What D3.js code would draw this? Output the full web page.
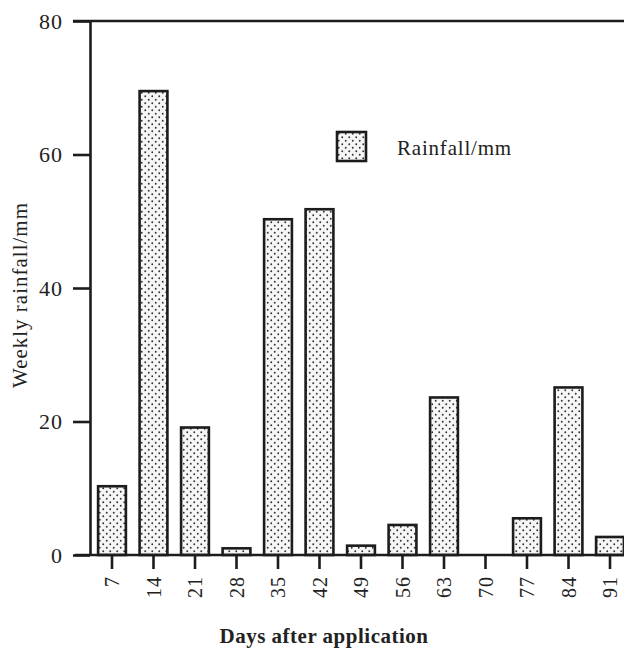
<!DOCTYPE html>
<html>
<head>
<meta charset="utf-8">
<script src="https://cdn.jsdelivr.net/npm/d3@7"></script>
<style>
  body { margin: 0; background: #fff; }
  svg text { font-family: "Liberation Serif", "Times New Roman", serif; fill: #222; }
</style>
</head>
<body>
<svg id="chart"></svg>
<script>
const days = [7, 14, 21, 28, 35, 42, 49, 56, 63, 70, 77, 84, 91];
const rainfall = [10.3, 69.5, 19.1, 1.0, 50.3, 51.8, 1.4, 4.5, 23.6, 0, 5.5, 25.1, 2.7];
const yTicks = [0, 20, 40, 60, 80];

const width = 624;
const height = 650;
const ink = '#1c1c1c';

const svg = d3.select('#chart').attr('width', width).attr('height', height);

// stipple pattern for bars
const defs = svg.append('defs');
const pat = defs.append('pattern')
    .attr('id', 'dots')
    .attr('patternUnits', 'userSpaceOnUse')
    .attr('width', 7)
    .attr('height', 7);
pat.append('rect').attr('width', 7).attr('height', 7).attr('fill', '#f6f6f6');
pat.append('circle').attr('cx', 1.75).attr('cy', 1.75).attr('r', 0.95).attr('fill', '#333');
pat.append('circle').attr('cx', 5.25).attr('cy', 5.25).attr('r', 0.95).attr('fill', '#333');

const step = 41.5;
const x0 = 112 - step / 2;
const xScale = d3.scaleBand()
    .domain(days)
    .range([x0, x0 + step * days.length])
    .paddingInner(0.33)
    .paddingOuter(0.165);

const yScale = d3.scaleLinear().domain([0, 80]).range([555, 21]);
const axisX = 90;

// bars
svg.selectAll('.bar')
    .data(days.map((d, i) => ({ day: d, value: rainfall[i] })).filter(d => d.value > 0))
    .enter()
    .append('rect')
    .attr('class', 'bar')
    .attr('x', d => xScale(d.day))
    .attr('y', d => yScale(d.value))
    .attr('width', xScale.bandwidth())
    .attr('height', d => yScale(0) - yScale(d.value))
    .attr('fill', 'url(#dots)')
    .attr('stroke', ink)
    .attr('stroke-width', 2.6);

// left axis
const yAxis = svg.append('g')
    .attr('transform', `translate(${axisX}, 0)`)
    .call(d3.axisLeft(yScale).tickValues(yTicks).tickSize(17).tickPadding(10).tickSizeOuter(0));
yAxis.select('.domain').attr('stroke', ink).attr('stroke-width', 2.6);
yAxis.selectAll('.tick line').attr('stroke', ink).attr('stroke-width', 2.6);
yAxis.selectAll('text')
    .style('font-size', '22px')
    .style('letter-spacing', '1px')
    .attr('fill', '#222');

// top frame line and baseline
svg.append('line')
    .attr('x1', axisX - 17).attr('x2', width)
    .attr('y1', yScale(80)).attr('y2', yScale(80))
    .attr('stroke', ink).attr('stroke-width', 2.6);
svg.append('line')
    .attr('x1', axisX - 15).attr('x2', width)
    .attr('y1', yScale(0)).attr('y2', yScale(0))
    .attr('stroke', ink).attr('stroke-width', 2.6);

// bottom ticks and rotated labels
const xAxis = svg.append('g')
    .attr('transform', `translate(0, ${yScale(0)})`)
    .call(d3.axisBottom(xScale).tickSize(14).tickPadding(8).tickSizeOuter(0));
xAxis.select('.domain').remove();
xAxis.selectAll('.tick line').attr('stroke', ink).attr('stroke-width', 2.6);
xAxis.selectAll('text')
    .style('font-size', '20px')
    .style('letter-spacing', '1px')
    .attr('text-anchor', 'end')
    .attr('transform', 'rotate(-90)')
    .attr('x', -21)
    .attr('y', 0)
    .attr('dy', '0.35em');

// axis titles
svg.append('text')
    .attr('x', 324)
    .attr('y', 643)
    .attr('text-anchor', 'middle')
    .style('font-size', '21px')
    .style('font-weight', 'bold')
    .style('letter-spacing', '0.5px')
    .text('Days after application');

svg.append('text')
    .attr('transform', 'translate(27, 295) rotate(-90)')
    .attr('text-anchor', 'middle')
    .style('font-size', '21px')
    .style('letter-spacing', '1px')
    .text('Weekly rainfall/mm');

// legend
const legend = svg.append('g').attr('transform', 'translate(337, 132)');
legend.append('rect')
    .attr('width', 29)
    .attr('height', 29)
    .attr('fill', 'url(#dots)')
    .attr('stroke', ink)
    .attr('stroke-width', 2.6);
legend.append('text')
    .attr('x', 60)
    .attr('y', 23)
    .style('font-size', '21px')
    .style('letter-spacing', '0.8px')
    .text('Rainfall/mm');
</script>
</body>
</html>
